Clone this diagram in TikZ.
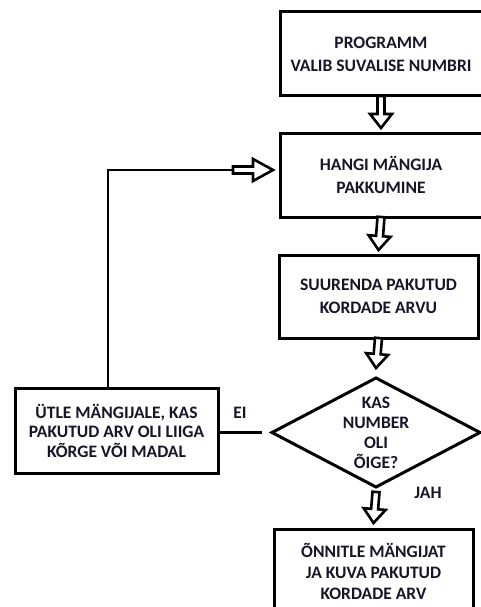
\documentclass[tikz,border=0pt]{standalone}
\usepackage{fontspec}
\setmainfont{Carlito}
\usetikzlibrary{calc,shapes.geometric}
\definecolor{ink}{RGB}{22,22,40}
\begin{document}
\begin{tikzpicture}[x=1pt,y=-1pt,
  txt/.style={text=ink, font=\fontsize{17.5}{23}\bfseries\selectfont, align=center, inner sep=0pt},
  box/.style={txt, draw=black, line width=3pt, rectangle, outer sep=0pt},
  line/.style={draw=black, line width=2.8pt},
  % hollow block arrow from start to target, #1 = head length
  barrow/.style={draw=black, line width=2.6pt, fill=white, line join=miter,
    to path={
      ($(\tikztostart)!3.5pt!90:(\tikztotarget)$)
      -- ($($(\tikztotarget)!#1!(\tikztostart)$)!3.5pt!90:(\tikztotarget)$)
      -- ($($(\tikztotarget)!#1!(\tikztostart)$)!11pt!90:(\tikztotarget)$)
      -- (\tikztotarget)
      -- ($($(\tikztotarget)!#1!(\tikztostart)$)!11pt!-90:(\tikztotarget)$)
      -- ($($(\tikztotarget)!#1!(\tikztostart)$)!3.5pt!-90:(\tikztotarget)$)
      -- ($(\tikztostart)!3.5pt!-90:(\tikztotarget)$)
      -- cycle}}
]
\useasboundingbox (0,0) rectangle (480,607);

% process boxes
\node[box, minimum width=202pt, minimum height=84pt] (start) at (381,54)
  {PROGRAMM\\VALIB SUVALISE NUMBRI};
\node[box, minimum width=202pt, minimum height=84pt] (guess) at (381,175)
  {HANGI MÄNGIJA\\PAKKUMINE};
\node[box, minimum width=199pt, minimum height=83pt] (count) at (378.5,296.5)
  {SUURENDA PAKUTUD\\KORDADE ARVU};
\node[box, minimum width=199pt, minimum height=84pt,
  font=\fontsize{17.5}{21}\bfseries\selectfont] (win) at (373.5,571)
  {ÕNNITLE MÄNGIJAT\\JA KUVA PAKUTUD\\KORDADE ARV};
\node[box, minimum width=203pt, minimum height=85pt,
  font=\fontsize{17.5}{19.5}\bfseries\selectfont] (warn) at (116.5,430.5)
  {ÜTLE MÄNGIJALE, KAS\\PAKUTUD ARV OLI LIIGA\\KÕRGE VÕI MADAL};

% decision
\node[draw=black, line width=3pt, diamond, minimum width=208pt, minimum height=109pt,
  inner sep=0pt, outer sep=0pt] (dec) at (376,432.5) {};
\node[txt, font=\fontsize{17.5}{20}\bfseries\selectfont] (q) at (dec.center)
  {KAS\\NUMBER\\OLI\\ÕIGE?};

% branch labels
\node[txt] (ei) at (240,413) {EI};
\node[txt] (jah) at (428,493) {JAH};

% main flow
\draw[barrow=14pt] (start.south) to ([yshift=5pt]guess.north);
\draw[barrow=14pt] (guess.south) to ([yshift=5pt]count.north);
\draw[barrow=14pt] (count.south) to ([yshift=10pt]dec.north);
\draw[barrow=14pt] ([yshift=-5pt]dec.south) to ([yshift=6pt]win.north);

% "no" branch and loop back
\draw[line] (dec.west -| warn.east) -- ([xshift=-10pt]dec.west);
\coordinate (fb) at (233,170);
\draw[line] ([xshift=-8.5pt]warn.north) |- (fb);
\draw[barrow=20pt] (fb) to ([xshift=-7pt]fb -| guess.west);
\end{tikzpicture}
\end{document}
